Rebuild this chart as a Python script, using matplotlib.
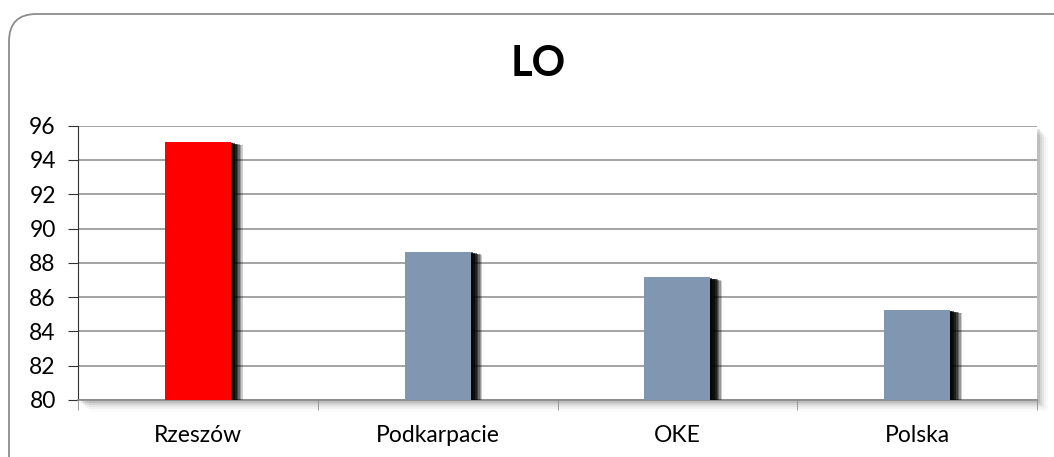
import matplotlib
matplotlib.use("Agg")
import matplotlib.pyplot as plt
import matplotlib.patheffects as pe
from matplotlib.patches import FancyBboxPatch, Rectangle

plt.rcParams['font.family'] = ['Lato', 'DejaVu Sans']

# data
categories = ["Rzeszów", "Podkarpacie", "OKE", "Polska"]
values = [95.05, 88.65, 87.15, 85.25]
bar_colors = ["#ff0000", "#8196b0", "#8196b0", "#8196b0"]
y_ticks = [80, 82, 84, 86, 88, 90, 92, 94, 96]

fig = plt.figure(figsize=(10.54, 4.57), dpi=100)

# rounded frame around the chart (runs off the right and bottom edge)
frame = FancyBboxPatch((9/1054, -0.2), 1.2, 1 - 14/457 + 0.2,
                       boxstyle="round,pad=0,rounding_size=0.026",
                       transform=fig.transFigure, fc="white", ec="#8c8c8c",
                       lw=1.3, mutation_aspect=1054/457, zorder=0)
fig.patches.append(frame)

l, r = 78/1054, 1037/1054
b, t = 1 - 400/457, 1 - 125.7/457

# soft shadow of plot area
for k, a in enumerate([0.10, 0.07, 0.05, 0.03, 0.02]):
    fig.patches.append(Rectangle((l + (3 + 2*k)/1054, b - (3 + 2*k)/457), r - l, t - b,
                                 transform=fig.transFigure, fc="black", alpha=a, lw=0, zorder=0.5))

ax = fig.add_axes([l, b, r - l, t - b])
ax.set_facecolor("white")
ax.set_zorder(2)

x = range(len(categories))
shadow = [pe.SimplePatchShadow(offset=(dx, -dy), shadow_rgbFace="black", alpha=al)
          for dx, dy, al in [(8.5, 2.5, 0.2), (7.5, 2, 0.25), (6.5, 1.7, 0.3), (5.5, 1.4, 0.4),
                             (4.5, 1.1, 0.5), (3, 0.8, 0.6), (1.5, 0.5, 0.6)]]
bars = ax.bar(x, [v - 80 for v in values], bottom=80, width=0.275,
              color=bar_colors, zorder=3)
for bar in bars:
    bar.set_path_effects(shadow + [pe.Normal()])

ax.set_xlim(-0.5, len(categories) - 0.5)
ax.set_ylim(80, 96)
ax.set_yticks(y_ticks)
ax.yaxis.grid(True, color="#8a8a8a", lw=1.1)
ax.set_axisbelow(True)

ax.set_xticks(list(x))
ax.set_xticklabels(categories, fontsize=16.5)
ax.set_xticks([i - 0.5 for i in range(len(categories) + 1)], minor=True)
ax.tick_params(axis="x", which="major", length=0, pad=18)
ax.tick_params(axis="x", which="minor", length=7, color="#8a8a8a", direction="out")
ax.tick_params(axis="y", length=7, pad=9, labelsize=16.5, color="#333333")

for s in ["top", "right"]:
    ax.spines[s].set_visible(False)
ax.spines["left"].set_color("#333333")
ax.spines["bottom"].set_color("#8a8a8a")
ax.spines["bottom"].set_linewidth(1.2)

fig.text(538/1054, 1 - 64/457, "LO", fontsize=30, fontweight="bold",
         ha="center", va="center")

fig.savefig("out.png", dpi=100)
